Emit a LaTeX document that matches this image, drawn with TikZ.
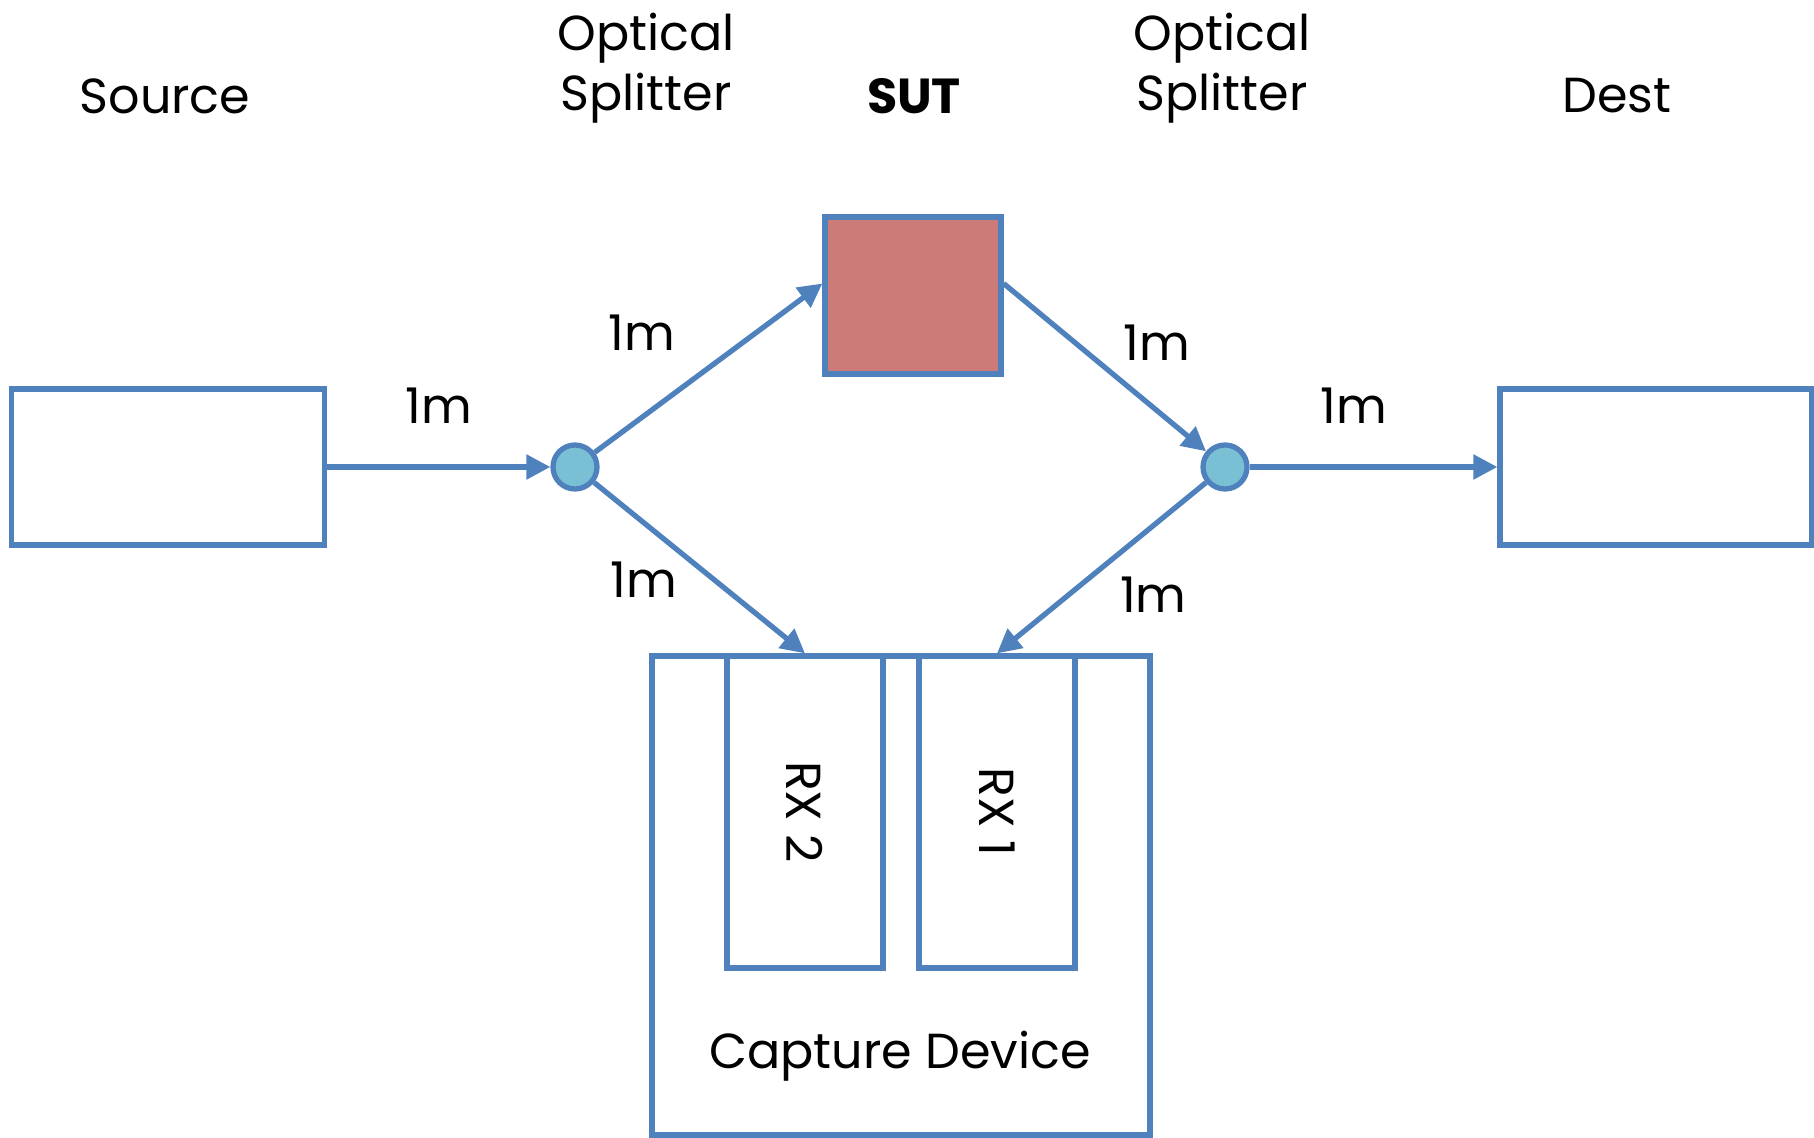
\documentclass[tikz,border=0pt]{standalone}
\usepackage{fontspec}
\setmainfont{Poppins}
\usetikzlibrary{arrows.meta, positioning}
\definecolor{linkblue}{RGB}{79,129,189}
\definecolor{sutred}{RGB}{205,123,120}
\definecolor{splitcyan}{RGB}{122,192,212}
\tikzset{
  devbox/.style={
    draw=linkblue, line width=1.5pt, fill=white, inner sep=0pt,
    font=\fontsize{14}{17}\selectfont
  },
  splitnode/.style={
    circle, draw=linkblue, line width=1.5pt, fill=splitcyan,
    minimum size=4.4mm, inner sep=0pt
  },
  linkarrow/.style={
    -{Triangle[length=2.4mm, width=2.4mm]}, line width=1.5pt, draw=linkblue
  },
  lenlabel/.style={
    font=\fontsize{14}{17}\selectfont, inner sep=0pt
  },
  titlelabel/.style={
    font=\fontsize{14}{17}\selectfont, align=center
  },
}

\begin{document}
\begin{tikzpicture}
  \useasboundingbox (0,0) rectangle (18.14,11.37);

  % --- Titles ---
  \node[titlelabel] (tsrc) at (1.65,10.41) {Source};
  \node[titlelabel] (tsp1) at (6.46,10.69) {Optical\\Splitter};
  \node[titlelabel, font=\fontsize{14}{17}\selectfont\bfseries] (tsut) at (9.14,10.41) {SUT};
  \node[titlelabel] (tsp2) at (12.22,10.69) {Optical\\Splitter};
  \node[titlelabel] (tdst) at (16.17,10.41) {Dest};

  % --- Devices ---
  \node[devbox, minimum width=3.13cm, minimum height=1.56cm] (src) at (1.68,6.70) {};
  \node[devbox, minimum width=3.12cm, minimum height=1.56cm] (dst) at (16.56,6.70) {};
  \node[devbox, fill=sutred, minimum width=1.76cm, minimum height=1.57cm] (sut) at (9.13,8.415) {};
  \node[splitnode] (sp1) at (5.75,6.70) {};
  \node[splitnode] (sp2) at (12.25,6.70) {};

  % --- Capture device ---
  \node[devbox, minimum width=4.98cm, minimum height=4.79cm] (cap) at (9.01,2.415) {};
  \node[devbox, minimum width=1.56cm, minimum height=3.12cm] (rx2) at (8.05,3.25) {\rotatebox{-90}{RX 2}};
  \node[devbox, minimum width=1.56cm, minimum height=3.12cm] (rx1) at (9.97,3.25) {\rotatebox{-90}{RX 1}};
  \node[titlelabel] (tcap) at (9.00,0.81) {Capture Device};

  % --- Links ---
  \draw[linkarrow] (src) -- node[lenlabel, above=0.41cm] {1m} (sp1);
  \draw[linkarrow] (sp1) -- node[lenlabel, above left=0.15cm and 0.31cm] {1m} ([yshift=1.2mm]sut.west);
  \draw[linkarrow] (sp1) -- node[lenlabel, left=0.2cm, yshift=-0.12cm] {1m} (rx2.north);
  \draw[linkarrow] ([yshift=1.2mm]sut.east) -- node[lenlabel, above right=0.04cm and 0.16cm] {1m} (sp2);
  \draw[linkarrow] (sp2) -- node[lenlabel, below right=0.06cm and 0.16cm] {1m} (rx1.north);
  \draw[linkarrow] (sp2) -- node[lenlabel, above=0.41cm, xshift=-0.2cm] {1m} (dst);
\end{tikzpicture}
\end{document}
